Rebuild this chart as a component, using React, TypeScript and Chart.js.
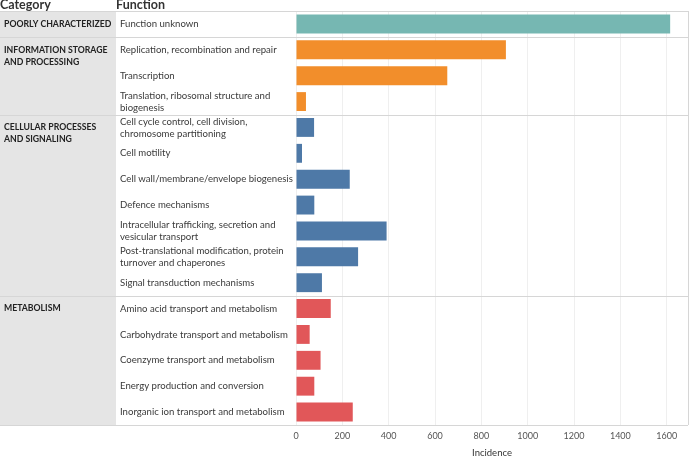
import { useEffect, useRef } from 'react';
import { Chart, registerables } from 'chart.js';

Chart.register(...registerables);

const categoryNames: string[][] = [
  ['POORLY CHARACTERIZED'],
  ['INFORMATION STORAGE', 'AND PROCESSING'],
  ['CELLULAR PROCESSES', 'AND SIGNALING'],
  ['METABOLISM'],
];
const categoryColors = ['#76B7B2', '#F28E2B', '#4E79A7', '#E15759'];

const functionLabels: (string | string[])[] = [
  'Function unknown',
  'Replication, recombination and repair',
  'Transcription',
  ['Translation, ribosomal structure and', 'biogenesis'],
  ['Cell cycle control, cell division,', 'chromosome partitioning'],
  'Cell motility',
  'Cell wall/membrane/envelope biogenesis',
  'Defence mechanisms',
  ['Intracellular trafficking, secretion and', 'vesicular transport'],
  ['Post-translational modification, protein', 'turnover and chaperones'],
  'Signal transduction mechanisms',
  'Amino acid transport and metabolism',
  'Carbohydrate transport and metabolism',
  'Coenzyme transport and metabolism',
  'Energy production and conversion',
  'Inorganic ion transport and metabolism',
];
const functionCategory = [0, 1, 1, 1, 2, 2, 2, 2, 2, 2, 2, 3, 3, 3, 3, 3];
const incidence = [1615, 906, 653, 43, 78, 26, 232, 79, 391, 268, 112, 150, 59, 106, 79, 245];

const xMax = 1692;
const xStep = 200;
const headerLabels = ['Category', 'Function'];
const axisTitle = 'Incidence';

const FONT = 'Lato, "Noto Sans", sans-serif';
const CAT_W = 116;
const FUNC_X = 120;

const tablePlugin = {
  id: 'tablePlugin',
  beforeDraw(chart: any) {
    const { ctx, chartArea } = chart;
    ctx.save();
    ctx.fillStyle = '#e5e5e5';
    ctx.fillRect(0, chartArea.top, CAT_W, chartArea.bottom - chartArea.top);
    ctx.restore();
  },
  afterDraw(chart: any) {
    const { ctx, chartArea, scales } = chart;
    const y = scales.y;
    ctx.save();
    const bounds: number[] = [chartArea.top];
    for (let i = 1; i < functionCategory.length; i++) {
      if (functionCategory[i] !== functionCategory[i - 1]) {
        bounds.push((y.getPixelForValue(i - 1) + y.getPixelForValue(i)) / 2);
      }
    }
    bounds.push(chartArea.bottom);
    ctx.strokeStyle = '#d6d6d6';
    ctx.lineWidth = 1;
    ctx.beginPath();
    for (const b of bounds) {
      const yy = Math.round(b) + 0.5;
      ctx.moveTo(0, yy);
      ctx.lineTo(chartArea.right, yy);
    }
    const rx = Math.round(chartArea.right) + 0.5;
    ctx.moveTo(rx, chartArea.top);
    ctx.lineTo(rx, chartArea.bottom);
    ctx.stroke();

    ctx.fillStyle = '#333333';
    ctx.font = `bold 12.5px ${FONT}`;
    ctx.textBaseline = 'alphabetic';
    ctx.textAlign = 'left';
    ctx.fillText(headerLabels[0], 0, 9);
    ctx.fillText(headerLabels[1], CAT_W, 9);

    ctx.font = `bold 8.7px ${FONT}`;
    ctx.textBaseline = 'middle';
    ctx.fillStyle = '#222222';
    categoryNames.forEach((lines, ci) => {
      const first = functionCategory.indexOf(ci);
      const y0 = y.getPixelForValue(first);
      lines.forEach((ln, li) => {
        ctx.fillText(ln, 4, y0 + li * 12);
      });
    });
    ctx.restore();
  },
};

export default function App() {
  const ref = useRef<HTMLCanvasElement>(null);
  useEffect(() => {
    document.body.style.margin = '0';
    const chart = new Chart(ref.current!, {
      type: 'bar',
      data: {
        labels: functionLabels as any,
        datasets: [
          {
            data: incidence,
            backgroundColor: functionCategory.map((c) => categoryColors[c]),
            barPercentage: 1,
            categoryPercentage: 0.73,
          },
        ],
      },
      options: {
        indexAxis: 'y',
        animation: false,
        responsive: true,
        maintainAspectRatio: false,
        layout: { padding: { left: FUNC_X, top: 11, right: 1, bottom: 0 } },
        plugins: { legend: { display: false }, tooltip: { enabled: false } },
        scales: {
          x: {
            min: 0,
            max: xMax,
            ticks: {
              stepSize: xStep,
              includeBounds: false,
              padding: 6,
              color: '#555555',
              font: { family: FONT, size: 9 },
              callback: (v: any) => String(v),
            } as any,
            grid: { color: '#efefef', drawTicks: false },
            border: { display: false },
            title: {
              display: true,
              text: axisTitle,
              color: '#333333',
              font: { family: FONT, size: 9.5, lineHeight: 1 },
              padding: { top: 0, bottom: 0 },
            },
            afterFit(scale: any) {
              scale.height = 33;
            },
          },
          y: {
            ticks: {
              autoSkip: false,
              crossAlign: 'far',
              color: '#3a3a3a',
              font: { family: FONT, size: 9.6, lineHeight: 1.25 },
            },
            grid: { display: false },
            border: { display: false },
            afterFit(scale: any) {
              scale.width = 176;
            },
          },
        },
      },
      plugins: [tablePlugin],
    });
    return () => chart.destroy();
  }, []);
  return (
    <div style={{ position: 'absolute', left: 0, top: 0, width: 689, height: 458 }}>
      <canvas ref={ref} />
    </div>
  );
}
